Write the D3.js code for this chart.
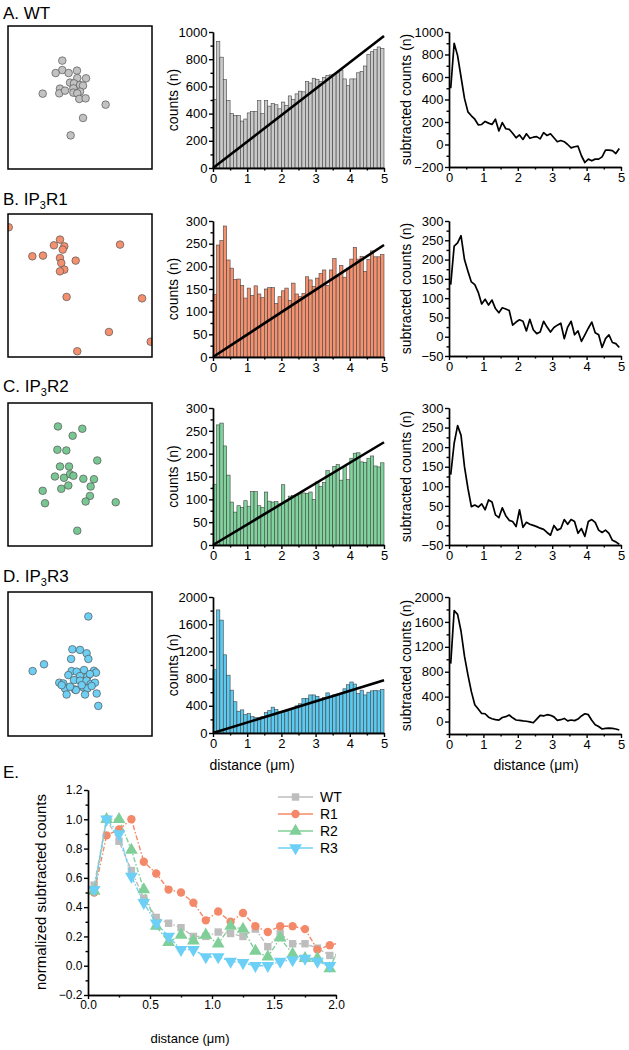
<!DOCTYPE html>
<html><head><meta charset="utf-8">
<script src="https://cdn.jsdelivr.net/npm/d3@7"></script>
<style>body{margin:0;background:#fff}svg{display:block}</style>
</head><body><svg id="c" width="629" height="1050"></svg>
<script>
// ---------------- DATA ----------------
const binStart = [0,0.1,0.2,0.3,0.4,0.5,0.6,0.7,0.8,0.9,1,1.1,1.2,1.3,1.4,1.5,1.6,1.7,1.8,1.9,2,2.1,2.2,2.3,2.4,2.5,2.6,2.7,2.8,2.9,3,3.1,3.2,3.3,3.4,3.5,3.6,3.7,3.8,3.9,4,4.1,4.2,4.3,4.4,4.5,4.6,4.7,4.8,4.9];
const binWidth = 0.1;

const wtCounts = [505,930,815,650,495,400,385,385,345,360, 405,415,415,495,400,495,455,475,465,435, 485,460,530,505,545,565,560,635,625,660, 650,635,665,680,685,690,700,720,655,605, 655,655,700,710,750,835,855,870,890,880];
const r1Counts = [138,247,257,289,214,196,171,172,158,130, 152,136,157,139,131,150,153,153,118,133, 146,152,125,163,139,133,140,177,170,156, 174,184,192,158,192,217,177,202,176,196, 216,242,216,222,189,215,234,221,221,226];
const r2Counts = [133,263,267,217,153,94,72,86,82,97, 85,117,117,86,82,116,96,94,95,90, 132,95,107,108,110,112,114,113,116,100, 138,128,137,163,155,172,176,142,172,143, 190,201,202,182,181,190,195,173,171,180];
const r3Counts = [930,1810,1660,1150,850,630,460,320,340,270, 285,240,225,225,240,300,330,380,345,310, 300,320,340,360,400,430,510,510,560,560, 540,500,520,590,540,560,570,580,650,710, 750,720,580,630,560,600,620,625,620,640];

// random-expectation line (distance 0 -> 5 µm)
const fitDist = [0, 5];
const wtFit = [0, 970];
const r1Fit = [0, 247];
const r2Fit = [0, 225];
const r3Fit = [0, 775];

const wtSub = [500,900,790,600,410,290,255,225,175,178, 205,190,178,225,120,195,140,135,100,60, 85,45,95,55,65,70,50,105,80,95, 60,25,35,25,0,-30,-20,-15,-100,-160, -130,-145,-130,-130,-110,-50,-50,-55,-80,-35];
const r1Sub = [135,235,243,262,200,170,142,135,115,85, 97,82,95,73,62,75,72,68,30,38, 44,40,15,45,18,8,12,40,25,12, 24,30,35,-5,25,40,5,15,-12,5, 22,38,10,5,-28,-5,5,-15,-18,-28];
const r2Sub = [130,210,255,230,150,95,48,52,47,55, 40,65,60,27,20,45,25,13,10,-3, 40,-5,8,3,0,-3,-7,-10,-18,-25, 0,-12,-8,15,3,15,10,-20,-8,-28, 10,15,8,-12,-18,-12,-20,-38,-42,-48];
const r3Sub = [930,1780,1720,1450,1050,750,480,270,200,130, 125,70,45,30,22,65,78,105,60,25, 20,10,5,-5,-20,40,100,90,110,100, 75,20,30,50,10,25,15,40,90,125, 110,20,-50,-80,-120,-110,-105,-110,-120,-135];

// cluster localisations (x, y in % of the field of view, y downward)
const wtPts = [[37.7,24.2],[37.7,30.8],[33.1,32.9],[42.1,32.9],[47.9,31.2],[48.1,36.4],[54.2,36.6],[43.1,39.6],[45.8,40.1],[50,41.3],[52.1,41.7],[36.1,43.8],[35.6,47.1],[39.6,45.2],[45.4,43.6],[45.4,46.6],[50,45.9],[48.1,47.1],[49.5,51],[53.9,50.6],[24.1,47.3],[67.8,55],[52.1,64.3],[43.5,76.5]];
const r1Pts = [[0.5,9.3],[36.1,17.9],[31.9,21.9],[39.1,22.6],[38,24.9],[16.9,29.6],[24.3,29.1],[36.1,30.8],[37,34.3],[39.1,38.9],[36.1,40.1],[47,32.6],[77.8,21.4],[40.7,58],[93.1,59],[70.1,82.5],[99.1,89.3],[48.1,96]];
const r2Pts = [[34.7,16.4],[44.9,22.9],[51.6,18],[34.3,32.7],[40.5,33.2],[62,40.2],[36.1,44.4],[42.4,44.4],[32.6,51.4],[38.9,52.3],[43.1,49.8],[45.4,50.9],[52.3,53],[59.7,53.3],[57.4,58.4],[41.9,57.7],[37,60],[24.1,61.4],[25.7,70.1],[56.9,65],[53.9,68.9],[74.8,69.4],[48.1,89.3]];
const r3Pts = [[55.8,17],[44.7,39.8],[50,40.2],[54.6,42.6],[55.8,46.5],[43.8,46.5],[25,50.2],[17.1,54.9],[44.2,54.9],[47.7,55.3],[52.8,54.2],[59.7,54.7],[61.1,56],[41.9,57.7],[50,58.4],[55.1,58.8],[56.9,57],[35.6,63],[38.4,63.5],[45.8,61.2],[50,61.6],[54.6,61.6],[57.4,64],[60.4,63],[39.6,67],[46.5,67.7],[52.3,66.3],[55.1,67],[58.1,65.3],[61.6,70.5],[40.7,71.2],[47.2,68.1],[53.5,71.2],[62.7,79.1],[37.3,64.7],[43.1,65.8],[51.2,64.7]];

// panel E: normalised subtracted counts
const eDist = [0.05,0.15,0.25,0.35,0.45,0.55,0.65,0.75,0.85,0.95,1.05,1.15,1.25,1.35,1.45,1.55,1.65,1.75,1.85,1.95,2.05];
const eWT = [0.55,1.0,0.85,0.65,0.46,0.33,0.29,0.26,0.20,0.20,0.23,0.22,0.20,0.25,0.13,0.22,0.15,0.15,0.12,0.07,0.05];
const eR1 = [0.50,0.89,0.93,1.0,0.71,0.63,0.52,0.50,0.43,0.31,0.37,0.30,0.36,0.27,0.23,0.27,0.27,0.25,0.11,0.14,0.16];
const eR2 = [0.51,1.0,1.0,0.79,0.52,0.27,0.16,0.21,0.17,0.21,0.15,0.27,0.25,0.10,0.06,0.19,0.08,0.05,0.05,-0.02,0.18];
const eR3 = [0.52,1.0,0.90,0.61,0.43,0.29,0.20,0.11,0.11,0.06,0.06,0.03,0.02,0.00,0.00,0.03,0.04,0.05,0.03,0.00,0.02];
const eNames = ["WT","R1","R2","R3"];

// ticks
const distTicks = [0,1,2,3,4,5];
const distMinor = [0.5,1.5,2.5,3.5,4.5];

// ---------------- DRAWING ----------------
const FONT = "'Liberation Sans', Arial, Helvetica, sans-serif";
const svg = d3.select("#c");

function styleAxis(g, fs){
  g.selectAll(".domain").attr("stroke","#000").attr("stroke-width",1.4);
  g.selectAll(".tick line").attr("stroke","#000").attr("stroke-width",1.4);
  g.selectAll(".tick text").attr("font-family",FONT).attr("font-size",fs).attr("fill","#000");
}
function axes(g, x, y, o){
  const yb = y.range()[0], xl = x.range()[0];
  const fs = o.fs || 13;
  g.append("g").attr("transform",`translate(0,${yb})`)
    .call(d3.axisBottom(x).tickValues(o.xMinor).tickSize(2.5).tickSizeOuter(0).tickFormat(""))
    .call(a=>styleAxis(a,fs));
  g.append("g").attr("transform",`translate(${xl},0)`)
    .call(d3.axisLeft(y).tickValues(o.yMinor).tickSize(2.5).tickSizeOuter(0).tickFormat(""))
    .call(a=>styleAxis(a,fs));
  g.append("g").attr("transform",`translate(0,${yb})`)
    .call(d3.axisBottom(x).tickValues(o.xMajor).tickSize(4).tickPadding(1.5).tickSizeOuter(0).tickFormat(o.xFmt))
    .call(a=>styleAxis(a,fs));
  g.append("g").attr("transform",`translate(${xl},0)`)
    .call(d3.axisLeft(y).tickValues(o.yMajor).tickSize(4).tickPadding(1.5).tickSizeOuter(0).tickFormat(o.yFmt))
    .call(a=>styleAxis(a,fs));
}
function title(t, x, y, sub){
  const tx = svg.append("text").attr("x",x).attr("y",y).attr("font-family",FONT).attr("font-size",17).attr("fill","#000");
  if(!sub){ tx.text(t); return; }
  tx.append("tspan").text(t[0]);
  tx.append("tspan").attr("font-size",11).attr("dy",4).text(t[1]);
  tx.append("tspan").attr("dy",-4).text(t[2]);
}
function vtext(t, x, y, fs){
  svg.append("text").attr("transform",`translate(${x},${y}) rotate(-90)`)
    .attr("text-anchor","middle").attr("dominant-baseline","central")
    .attr("font-family",FONT).attr("font-size",fs).attr("fill","#000").text(t);
}

const rows = [
  {title:["A. WT"], tY:19, box:[8,26,144,143], pts:wtPts, ptFill:"#c2c2c2",
   counts:wtCounts, barFill:"#c9c9c9", fit:wtFit, hY:[32,168], hDom:[0,1000], hMaj:[0,200,400,600,800,1000], hMin:[100,300,500,700,900],
   sub:wtSub, sY:[32,167], sDom:[-200,1000], sMaj:[-200,0,200,400,600,800,1000], sMin:[-100,100,300,500,700,900]},
  {title:["B. IP","3","R1"], tY:205, box:[8,214,144,143], pts:r1Pts, ptFill:"#f4906e",
   counts:r1Counts, barFill:"#f4916f", fit:r1Fit, hY:[221,357], hDom:[0,300], hMaj:[0,50,100,150,200,250,300], hMin:[25,75,125,175,225,275],
   sub:r1Sub, sY:[221,356], sDom:[-50,300], sMaj:[-50,0,50,100,150,200,250,300], sMin:[-25,25,75,125,175,225,275]},
  {title:["C. IP","3","R2"], tY:392, box:[8,403,144,143], pts:r2Pts, ptFill:"#78c692",
   counts:r2Counts, barFill:"#80d39c", fit:r2Fit, hY:[408,545], hDom:[0,300], hMaj:[0,50,100,150,200,250,300], hMin:[25,75,125,175,225,275],
   sub:r2Sub, sY:[408,545], sDom:[-50,300], sMaj:[-50,0,50,100,150,200,250,300], sMin:[-25,25,75,125,175,225,275]},
  {title:["D. IP","3","R3"], tY:582, box:[8,592,144,144], pts:r3Pts, ptFill:"#6dcff3",
   counts:r3Counts, barFill:"#5ccaf0", fit:r3Fit, hY:[597,733], hDom:[0,2000], hMaj:[0,400,800,1200,1600,2000], hMin:[200,600,1000,1400,1800],
   sub:r3Sub, sY:[597,734], sDom:[-200,2000], sMaj:[0,400,800,1200,1600,2000], sMin:[-200,200,600,1000,1400,1800]}
];

rows.forEach((r,ri)=>{
  if(r.title.length===1) title(r.title[0],3,r.tY,false); else title(r.title,3,r.tY,true);
  const [bx,by,bw,bh] = r.box;
  const cid = "clip"+ri;
  svg.append("clipPath").attr("id",cid).append("rect").attr("x",bx).attr("y",by).attr("width",bw).attr("height",bh);
  const sx = d3.scaleLinear([0,100],[bx,bx+bw]), sy = d3.scaleLinear([0,100],[by,by+bh]);
  svg.append("g").attr("clip-path",`url(#${cid})`).selectAll("circle").data(r.pts).join("circle")
    .attr("cx",d=>sx(d[0])).attr("cy",d=>sy(d[1])).attr("r",3.8)
    .attr("fill",r.ptFill).attr("stroke","#555").attr("stroke-width",0.7);
  svg.append("rect").attr("x",bx).attr("y",by).attr("width",bw).attr("height",bh)
    .attr("fill","none").attr("stroke","#000").attr("stroke-width",1.5);

  const hx = d3.scaleLinear([0,5],[213,384]);
  const hy = d3.scaleLinear(r.hDom,[r.hY[1],r.hY[0]]);
  const hg = svg.append("g");
  hg.selectAll("rect").data(binStart).join("rect")
    .attr("x",d=>hx(d)).attr("width",d=>hx(d+binWidth)-hx(d))
    .attr("y",(d,i)=>hy(r.counts[i])).attr("height",(d,i)=>hy(0)-hy(r.counts[i]))
    .attr("fill",r.barFill).attr("stroke","#444").attr("stroke-width",0.6);
  hg.append("path").datum(fitDist.map((d,i)=>[d,r.fit[i]]))
    .attr("d",d3.line().x(d=>hx(d[0])).y(d=>hy(d[1])))
    .attr("stroke","#000").attr("stroke-width",2.6).attr("fill","none");
  axes(hg,hx,hy,{xMajor:distTicks,xMinor:distMinor,yMajor:r.hMaj,yMinor:r.hMin,xFmt:d3.format("d"),yFmt:d3.format("d")});
  vtext("counts (n)",173,(r.hY[0]+r.hY[1])/2,14);

  const lx = d3.scaleLinear([0,5],[449,621]);
  const ly = d3.scaleLinear(r.sDom,[r.sY[1],r.sY[0]]);
  const lg = svg.append("g");
  lg.append("path").datum(r.sub)
    .attr("d",d3.line().x((d,i)=>lx(binStart[i]+binWidth/2)).y(d=>ly(d)))
    .attr("stroke","#000").attr("stroke-width",1.7).attr("fill","none").attr("stroke-linejoin","round");
  axes(lg,lx,ly,{xMajor:distTicks,xMinor:distMinor,yMajor:r.sMaj,yMinor:r.sMin,xFmt:d3.format("d"),yFmt:d3.format("d")});
  vtext("subtracted counts (n)",406,(r.sY[0]+r.sY[1])/2,14);
});

svg.append("text").attr("x",252).attr("y",770).attr("text-anchor","middle").attr("font-family",FONT).attr("font-size",14).text("distance (μm)");
svg.append("text").attr("x",536).attr("y",770).attr("text-anchor","middle").attr("font-family",FONT).attr("font-size",14).text("distance (μm)");

// ---------------- PANEL E ----------------
title("E.",3,778,false);
const ex = d3.scaleLinear([0,2],[88,336]);
const ey = d3.scaleLinear([-0.2,1.2],[995,790]);
svg.append("clipPath").attr("id","eclip").append("rect").attr("x",88).attr("y",780).attr("width",248).attr("height",215);
const eg = svg.append("g");
const eSeries = [
  {vals:eWT, color:"#bdbdbd", sym:d3.symbolSquare, size:55, rot:0},
  {vals:eR1, color:"#f4896a", sym:d3.symbolCircle, size:55, rot:0},
  {vals:eR2, color:"#80cf99", sym:d3.symbolTriangle, size:70, rot:0},
  {vals:eR3, color:"#6ccff6", sym:d3.symbolTriangle, size:70, rot:180}
];
const dg = eg.append("g").attr("clip-path","url(#eclip)");
eSeries.forEach(s=>{
  dg.append("path").datum(s.vals)
    .attr("d",d3.line().x((d,i)=>ex(eDist[i])).y(d=>ey(d)))
    .attr("fill","none").attr("stroke",s.color).attr("stroke-width",1.4).attr("stroke-dasharray","5,2,1.5,2");
  dg.selectAll(null).data(s.vals).join("path")
    .attr("transform",(d,i)=>`translate(${ex(eDist[i])},${ey(d)}) rotate(${s.rot})`)
    .attr("d",d3.symbol(s.sym,s.size)).attr("fill",s.color);
});
axes(eg,ex,ey,{xMajor:[0,0.5,1,1.5,2],xMinor:[0.25,0.75,1.25,1.75],
  yMajor:[-0.2,0,0.2,0.4,0.6,0.8,1.0,1.2],yMinor:[-0.1,0.1,0.3,0.5,0.7,0.9,1.1],
  xFmt:d3.format(".1f"),yFmt:d3.format(".1f"),fs:12});
vtext("normalized subtracted counts",40,892,15);
svg.append("text").attr("x",190).attr("y",1043).attr("text-anchor","middle").attr("font-family",FONT).attr("font-size",13).text("distance (μm)");

const lgd = svg.append("g");
eSeries.forEach((s,i)=>{
  const yy = 797 + i*17;
  lgd.append("line").attr("x1",278).attr("x2",313).attr("y1",yy).attr("y2",yy).attr("stroke",s.color).attr("stroke-width",1.6);
  lgd.append("path").attr("transform",`translate(295.5,${yy}) rotate(${s.rot})`).attr("d",d3.symbol(s.sym,s.size)).attr("fill",s.color);
  lgd.append("text").attr("x",320).attr("y",yy).attr("dominant-baseline","central").attr("font-family",FONT).attr("font-size",14).text(eNames[i]);
});
</script></body></html>
